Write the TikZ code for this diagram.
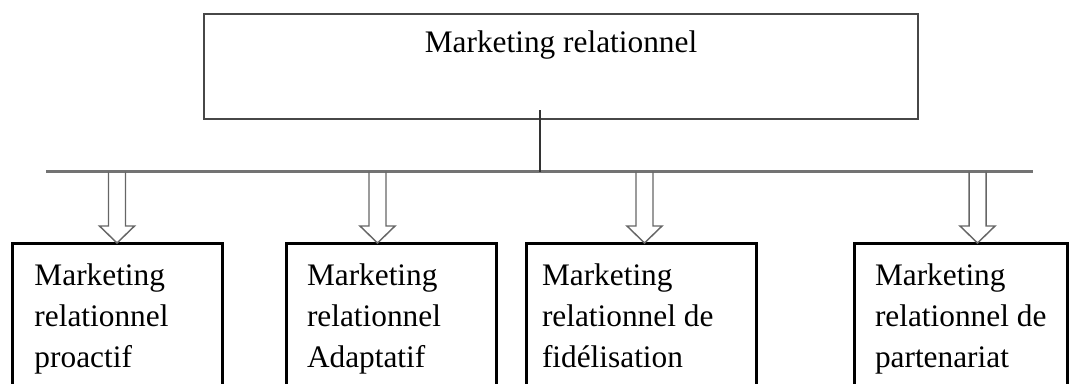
\documentclass[tikz,border=0pt]{standalone}
\usepackage{fontspec}
\setmainfont{Liberation Serif}
\usetikzlibrary{calc}
\newcommand\boxlines[3]{\makebox[#1][l]{\hspace*{#2}\begin{tabular}[t]{@{}l@{}}#3\end{tabular}}}
\tikzset{
  txtfont/.style={font=\fontsize{23.5}{31.1}\selectfont},
  topbox/.style={draw=black!72, line width=1.6pt, inner sep=0pt, outer sep=0pt,
    minimum width=535.5pt, text height=28.5pt, text depth=50.25pt, anchor=base, txtfont},
  botbox/.style={draw=black, line width=2.25pt, inner sep=0pt, outer sep=0pt,
    anchor=north west, text height=31.5pt, text depth=101.25pt, txtfont},
  stemline/.style={draw=black!80, line width=1.5pt},
  barline/.style={draw=black!55, line width=1.6pt},
  hollowarrow/.style={draw=black!60, line width=1.1pt, line join=miter}
}
\begin{document}
\begin{tikzpicture}[x=0.75pt, y=-0.75pt]
  \useasboundingbox (0,0) rectangle (1069,383);
  \clip (0,0) rectangle (1069,383);
  % top box
  \node[topbox] (top) at (561,52) {Marketing relationnel};
  % bar
  \coordinate (barL) at (46,171.5);
  \coordinate (barR) at (1033,171.5);
  \draw[barline] (barL) -- (barR);
  % stem
  \draw[stemline] ([xshift=-15.75pt, yshift=6.75pt]top.south) -- ([xshift=-15.75pt]top.south |- barL);
  % bottom boxes
  \node[botbox] (b1) at (12,243) {\boxlines{157.5pt}{16.875pt}{Marketing\\relationnel\\proactif}};
  \node[botbox] (b2) at (286,243) {\boxlines{157.5pt}{15.75pt}{Marketing\\relationnel\\Adaptatif}};
  \node[botbox] (b3) at (526,243) {\boxlines{172.5pt}{12pt}{Marketing\\relationnel de\\fidélisation}};
  \node[botbox] (b4) at (854,243) {\boxlines{159.75pt}{15.75pt}{Marketing\\relationnel de\\partenariat}};
  % arrow roots on bar
  \coordinate (a1) at (117,171.5);
  \coordinate (a2) at (377.5,171.5);
  \coordinate (a3) at (644.5,171.5);
  \coordinate (a4) at (977.5,171.5);
  \foreach \i in {1,...,4}{
    \coordinate (t\i) at (a\i |- b\i.north);
    \draw[hollowarrow] ($(a\i)+(-8.5,0)$) -- ($(t\i)+(-8.5,-17)$) -- ($(t\i)+(-17.5,-17)$)
      -- (t\i) -- ($(t\i)+(17.5,-17)$) -- ($(t\i)+(8.5,-17)$) -- ($(a\i)+(8.5,0)$);
  }
\end{tikzpicture}
\end{document}
